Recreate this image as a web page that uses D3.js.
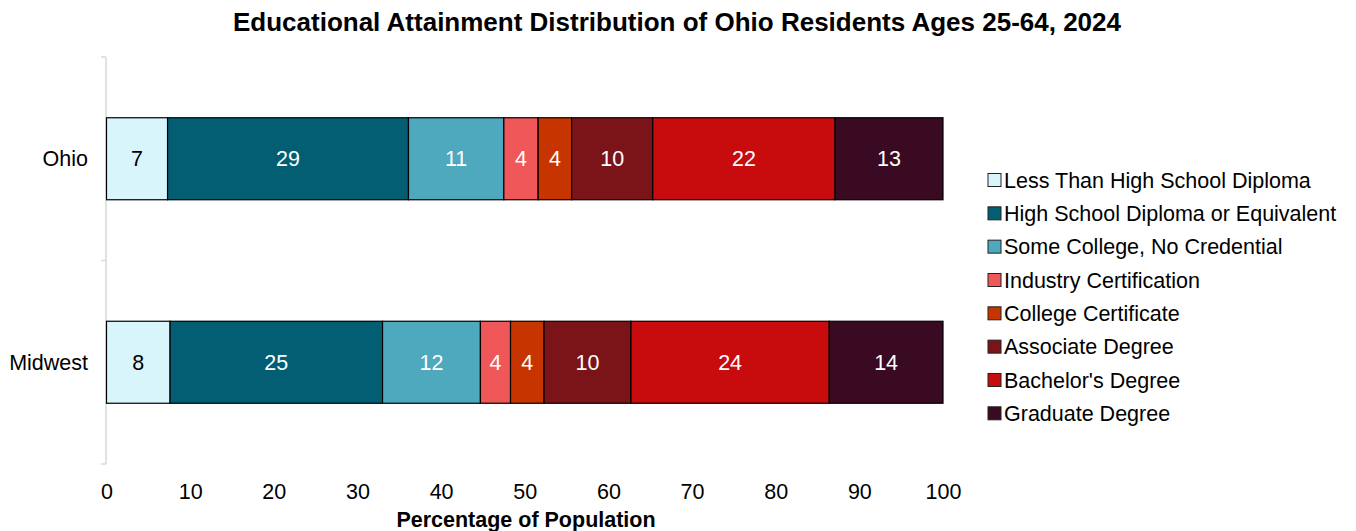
<!DOCTYPE html>
<html>
<head>
<meta charset="utf-8">
<script src="https://cdn.jsdelivr.net/npm/d3@7"></script>
<style>
  html, body { margin: 0; padding: 0; background: #fff; }
  svg { display: block; }
  text { font-family: "Liberation Sans", Arial, Helvetica, sans-serif; }
</style>
</head>
<body>
<svg id="chart" width="1356" height="531"></svg>
<script>
const categories = ["Ohio", "Midwest"];
const seriesNames = [
  "Less Than High School Diploma",
  "High School Diploma or Equivalent",
  "Some College, No Credential",
  "Industry Certification",
  "College Certificate",
  "Associate Degree",
  "Bachelor's Degree",
  "Graduate Degree"
];
const ohioValues    = [7.3, 28.8, 11.4, 4.1, 4.0, 9.7, 21.8, 12.9];
const midwestValues = [7.6, 25.4, 11.7, 3.6, 4.0, 10.4, 23.7, 13.6];
const seriesColors = ["#d9f5fc", "#045e73", "#4ea8be", "#f05759", "#c63500", "#7a1419", "#c80b0c", "#390a22"];
const labelColors  = ["#000000", "#ffffff", "#ffffff", "#ffffff", "#ffffff", "#ffffff", "#ffffff", "#ffffff"];
const xTicks = [0, 10, 20, 30, 40, 50, 60, 70, 80, 90, 100];
const titleText = "Educational Attainment Distribution of Ohio Residents Ages 25-64, 2024";
const xAxisTitle = "Percentage of Population";

const valuesByCategory = { "Ohio": ohioValues, "Midwest": midwestValues };
const rows = categories.map(c => {
  const r = { category: c };
  seriesNames.forEach((s, i) => r[s] = valuesByCategory[c][i]);
  return r;
});

const svg = d3.select("#chart");
const margin = { left: 106.5, right: 413, top: 57, bottom: 67 };
const W = 1356, H = 531;

const x = d3.scaleLinear().domain([0, 100]).range([margin.left, W - margin.right]);
const y = d3.scaleBand().domain(categories).range([margin.top, H - margin.bottom]).padding(0);
const barH = 82;
const color = d3.scaleOrdinal().domain(seriesNames).range(seriesColors);

const stack = d3.stack().keys(seriesNames);
const stacked = stack(rows);

// Title
svg.append("text")
  .attr("x", 677).attr("y", 31)
  .attr("text-anchor", "middle")
  .attr("font-size", 26).attr("font-weight", "bold")
  .attr("fill", "#000")
  .text(titleText);

// Left axis (category)
const yAxisG = svg.append("g").attr("transform", `translate(${margin.left - 0.5},0)`);
yAxisG.append("line")
  .attr("x1", 0).attr("x2", 0)
  .attr("y1", y.range()[0]).attr("y2", y.range()[1])
  .attr("stroke", "#d9d9d9").attr("stroke-width", 1.5);
const boundaries = categories.map(c => y(c)).concat([y.range()[1]]);
yAxisG.selectAll("line.tick").data(boundaries).join("line")
  .attr("class", "tick")
  .attr("x1", -5).attr("x2", 0)
  .attr("y1", d => d).attr("y2", d => d)
  .attr("stroke", "#d9d9d9").attr("stroke-width", 1.5);
yAxisG.selectAll("text.cat").data(categories).join("text")
  .attr("class", "cat")
  .attr("x", -18)
  .attr("y", d => y(d) + y.bandwidth() / 2)
  .attr("dy", "0.35em")
  .attr("text-anchor", "end")
  .attr("font-size", 21.5)
  .attr("fill", "#000")
  .text(d => d);

// Bars
const layers = svg.append("g").selectAll("g.layer").data(stacked).join("g")
  .attr("class", "layer")
  .attr("fill", d => color(d.key));

layers.selectAll("rect").data(d => d.map(p => ({ key: d.key, p }))).join("rect")
  .attr("x", d => x(d.p[0]))
  .attr("width", d => x(d.p[1]) - x(d.p[0]))
  .attr("y", d => y(d.p.data.category) + (y.bandwidth() - barH) / 2)
  .attr("height", barH)
  .attr("stroke", "#000").attr("stroke-width", 1.2);

// Data labels
const fmt = d3.format(".0f");
layers.selectAll("text").data(d => d.map(p => ({ key: d.key, p }))).join("text")
  .attr("x", d => (x(d.p[0]) + x(d.p[1])) / 2)
  .attr("y", d => y(d.p.data.category) + y.bandwidth() / 2)
  .attr("dy", "0.35em")
  .attr("text-anchor", "middle")
  .attr("font-size", 21.5)
  .attr("fill", d => labelColors[seriesNames.indexOf(d.key)])
  .text(d => fmt(d.p[1] - d.p[0]));

// Bottom axis (no line)
const xAxis = d3.axisBottom(x).tickValues(xTicks).tickSize(0).tickPadding(0).tickFormat(d3.format("d"));
const xAxisG = svg.append("g").attr("transform", `translate(0,${H - margin.bottom})`).call(xAxis);
xAxisG.select(".domain").remove();
xAxisG.selectAll("text")
  .attr("font-size", 21.5)
  .attr("font-family", "'Liberation Sans', Arial, sans-serif")
  .attr("fill", "#000")
  .attr("y", 35).attr("dy", 0);

svg.append("text")
  .attr("x", 526).attr("y", 527)
  .attr("text-anchor", "middle")
  .attr("font-size", 21.5).attr("font-weight", "bold")
  .attr("fill", "#000")
  .text(xAxisTitle);

// Legend
const legend = svg.append("g").attr("transform", "translate(988,180)");
const legendStep = 33.33;
const items = legend.selectAll("g").data(seriesNames).join("g")
  .attr("transform", (d, i) => `translate(0,${i * legendStep})`);
items.append("rect")
  .attr("x", 0).attr("y", -6.5).attr("width", 13).attr("height", 13)
  .attr("fill", d => color(d))
  .attr("stroke", "#222").attr("stroke-width", 1);
items.append("text")
  .attr("x", 16).attr("y", 0).attr("dy", "0.35em")
  .attr("font-size", 21.5)
  .attr("fill", "#000")
  .text(d => d);
</script>
</body>
</html>
